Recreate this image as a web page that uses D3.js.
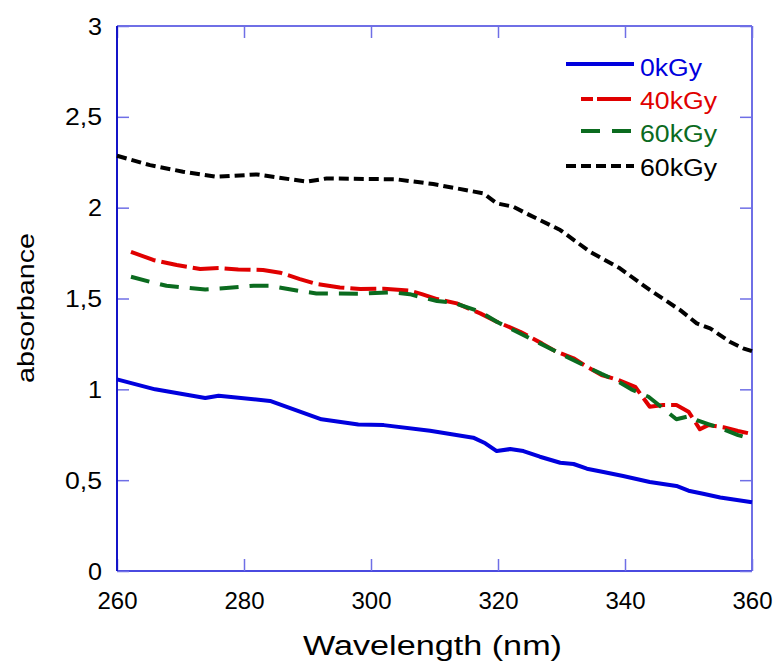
<!DOCTYPE html>
<html>
<head>
<meta charset="utf-8">
<script src="https://cdn.jsdelivr.net/npm/d3@7"></script>
<style>
html,body{margin:0;padding:0;background:#fff;}
svg{display:block;font-family:"Liberation Sans",Arial,sans-serif;}
</style>
</head>
<body>
<svg id="chart" width="778" height="662"></svg>
<script>
// ---- data ----
const xTicks = [260, 280, 300, 320, 340, 360];
const yTicks = [0, 0.5, 1, 1.5, 2, 2.5, 3];
const yTickLabels = ["0", "0,5", "1", "1,5", "2", "2,5", "3"];

const wl0 = [260, 266, 273.9, 276, 284.1, 292.2, 298, 302, 309.3, 316.1, 318, 319.8, 321.9, 324, 326.6, 329.8, 331.9, 334, 336.6, 339.7, 343.9, 348.1, 350, 352.3, 355, 360];
const abs0 = [1.055, 1.0, 0.952, 0.965, 0.936, 0.835, 0.807, 0.803, 0.772, 0.734, 0.703, 0.66, 0.671, 0.66, 0.629, 0.596, 0.589, 0.563, 0.545, 0.523, 0.49, 0.468, 0.442, 0.425, 0.405, 0.378];

const wl40 = [262.2, 265.7, 269.4, 273.1, 276, 279.1, 283, 285.7, 288.8, 291.4, 295.1, 298.3, 302, 306.1, 308, 310.4, 313.5, 317.2, 319.8, 323.5, 326.9, 329.2, 331.9, 334, 336.3, 339, 341.6, 343.9, 346, 348.1, 350, 351.8, 353.1, 355.5, 357.8, 360];
const abs40 = [1.757, 1.712, 1.684, 1.662, 1.668, 1.66, 1.657, 1.642, 1.607, 1.58, 1.561, 1.552, 1.554, 1.543, 1.524, 1.497, 1.473, 1.418, 1.372, 1.317, 1.253, 1.207, 1.171, 1.124, 1.079, 1.051, 1.014, 0.904, 0.914, 0.914, 0.877, 0.78, 0.803, 0.791, 0.771, 0.754];

const wl60 = [262.2, 265.2, 267.8, 273.9, 276.7, 281.5, 284.1, 288.8, 291.4, 298.3, 303, 306.1, 308, 310.4, 313, 317.2, 319.8, 326.6, 334, 336.3, 339, 341, 343.7, 346, 348.1, 350.2, 351.3, 353.1, 355.5, 357.8, 360];
const abs60 = [1.62, 1.592, 1.57, 1.55, 1.556, 1.57, 1.57, 1.541, 1.528, 1.526, 1.534, 1.524, 1.506, 1.486, 1.477, 1.427, 1.372, 1.253, 1.124, 1.085, 1.042, 1.0, 0.959, 0.895, 0.835, 0.853, 0.831, 0.809, 0.78, 0.748, 0.726];

const wl60b = [260, 265.2, 270.4, 275.7, 282, 289.9, 293, 304, 309.8, 317.7, 319.8, 322.4, 325, 329.8, 334.5, 339.2, 343.9, 348.7, 351.3, 353.4, 356.5, 358.6, 360];
const abs60b = [2.286, 2.234, 2.198, 2.17, 2.183, 2.143, 2.161, 2.156, 2.13, 2.079, 2.024, 2.005, 1.959, 1.877, 1.757, 1.666, 1.547, 1.436, 1.363, 1.336, 1.262, 1.226, 1.21];

const seriesNames = ["0kGy", "40kGy", "60kGy", "60kGy"];
const seriesX = [wl0, wl40, wl60, wl60b];
const seriesY = [abs0, abs40, abs60, abs60b];
const seriesColors = ["#0000dd", "#e00000", "#0b6b1f", "#000000"];
const seriesDash = [null, "26,6", "19,11", "10,5"];

// ---- layout ----
const svg = d3.select("#chart");
const L = 117, R = 752, T = 26, B = 571;
const x = d3.scaleLinear().domain([260, 360]).range([L, R]);
const y = d3.scaleLinear().domain([0, 3]).range([B, T]);

const frameCol = "#6f6fe6";
const tickLen = 12;

// frame
svg.append("line").attr("x1", L).attr("x2", R).attr("y1", T).attr("y2", T).attr("stroke", frameCol).attr("stroke-width", 2);
svg.append("line").attr("x1", R).attr("x2", R).attr("y1", T).attr("y2", B).attr("stroke", frameCol).attr("stroke-width", 2);
svg.append("line").attr("x1", L).attr("x2", R).attr("y1", B).attr("y2", B).attr("stroke", "#4a4ae0").attr("stroke-width", 2);

// axes via d3
const gB = svg.append("g").attr("transform", `translate(0,${B})`)
  .call(d3.axisBottom(x).tickValues(xTicks).tickSize(-tickLen).tickPadding(0).tickFormat(d3.format("d")));
const gT = svg.append("g").attr("transform", `translate(0,${T})`)
  .call(d3.axisTop(x).tickValues(xTicks).tickSize(-tickLen).tickFormat(""));
const gL = svg.append("g").attr("transform", `translate(${L},0)`)
  .call(d3.axisLeft(y).tickValues(yTicks).tickSize(-tickLen).tickFormat((d, i) => yTickLabels[i]));
const gR = svg.append("g").attr("transform", `translate(${R},0)`)
  .call(d3.axisRight(y).tickValues(yTicks).tickSize(-tickLen).tickFormat(""));

[gB, gT, gL, gR].forEach(g => {
  g.select(".domain").remove();
  g.selectAll(".tick line").attr("stroke", frameCol).attr("stroke-width", 1.5);
});
gB.selectAll(".tick text").attr("font-size", 24).attr("fill", "#000").attr("y", 38).attr("dy", 0)
  .attr("font-family", "'Liberation Sans', Arial, sans-serif")
  .attr("textLength", 40).attr("lengthAdjust", "spacingAndGlyphs");
gL.selectAll(".tick text").attr("font-size", 23).attr("fill", "#000").attr("x", -15).attr("dy", "0.35em")
  .attr("font-family", "'Liberation Sans', Arial, sans-serif")
  .each(function(d, i) {
    const t = d3.select(this);
    const w = yTickLabels[i].length === 1 ? 14 : 37;
    t.attr("textLength", w).attr("lengthAdjust", "spacingAndGlyphs");
  });

// left axis line (darker)
svg.append("line").attr("x1", L).attr("x2", L).attr("y1", T).attr("y2", B).attr("stroke", "#1414c8").attr("stroke-width", 2);

// series
const line = d3.line().x(d => x(d[0])).y(d => y(d[1]));
seriesX.forEach((xs, i) => {
  const pts = xs.map((v, j) => [v, seriesY[i][j]]);
  svg.append("path").datum(pts)
    .attr("d", line)
    .attr("fill", "none")
    .attr("stroke", seriesColors[i])
    .attr("stroke-width", 4)
    .attr("stroke-linejoin", "round")
    .attr("stroke-dasharray", seriesDash[i]);
});

// legend
const legY = [64, 99, 131, 166];
const legX1 = [566, 581, 581, 566];
const legX2 = [634, 631, 631, 634];
const legTextBase = [76, 109, 142, 176];
const legTextLen = [62, 77, 77, 77];
seriesNames.forEach((n, i) => {
  svg.append("line").attr("x1", legX1[i]).attr("x2", legX2[i]).attr("y1", legY[i]).attr("y2", legY[i])
    .attr("stroke", seriesColors[i]).attr("stroke-width", 4)
    .attr("stroke-dasharray", i === 1 ? "12,4,34" : (i === 2 ? "19,12" : seriesDash[i]));
  svg.append("text").attr("x", 640).attr("y", legTextBase[i]).text(n)
    .attr("fill", seriesColors[i]).attr("font-size", 23)
    .attr("textLength", legTextLen[i]).attr("lengthAdjust", "spacingAndGlyphs");
});

// axis titles
svg.append("text").attr("x", 303).attr("y", 655).text("Wavelength (nm)")
  .attr("font-size", 27).attr("fill", "#000")
  .attr("textLength", 259).attr("lengthAdjust", "spacingAndGlyphs");
svg.append("text").attr("transform", "translate(34,383) rotate(-90)").text("absorbance")
  .attr("font-size", 24).attr("fill", "#000")
  .attr("textLength", 150).attr("lengthAdjust", "spacingAndGlyphs");
</script>
</body>
</html>
